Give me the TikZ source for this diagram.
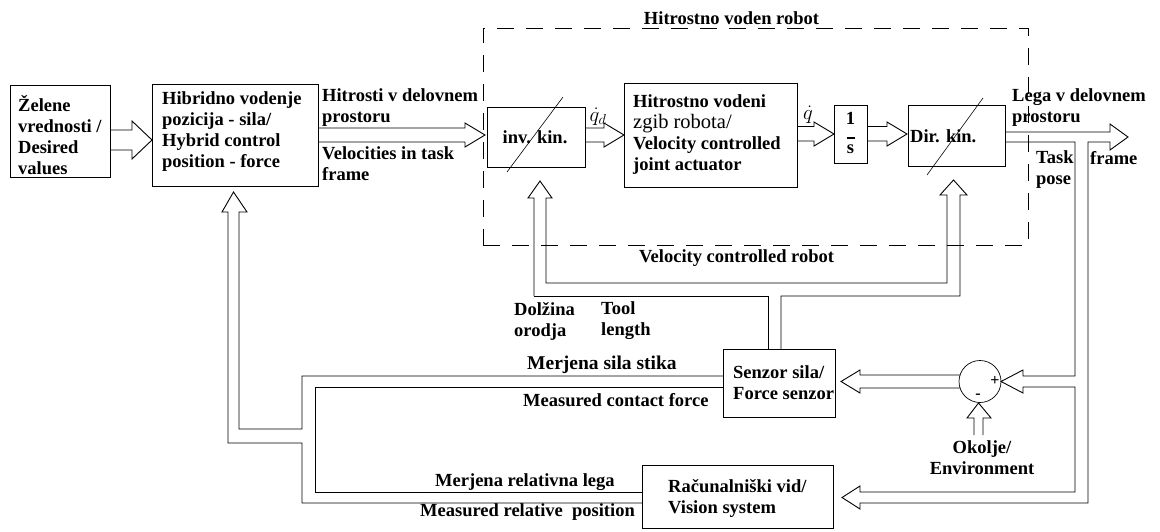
\documentclass[tikz,border=0pt]{standalone}
\usepackage{fontspec}
\setmainfont{Liberation Serif}
\newcommand\fz{\bfseries\fontsize{18.5}{21}\selectfont}
\begin{document}
\begin{tikzpicture}[x=1pt,y=-1pt,
  conn/.style={line width=0.9pt, line join=miter},
  thinl/.style={line width=0.6pt},
  box/.style={draw, line width=0.9pt, inner sep=0pt},
  lbl/.style={inner sep=0pt, align=left, font=\fz},
  dashbox/.style={draw, line width=0.9pt, dash pattern=on 17pt off 12pt, inner sep=0pt},
]
\useasboundingbox (0,0) rectangle (1160,531);

% dashed frame of the velocity controlled robot
\node[dashbox, minimum width=545pt, minimum height=217pt] (vcr) at (755.5,136.5) {};
\node[lbl] (vcrtitle) at (731.5,18.5) {Hitrostno voden robot};
\node[lbl] (vcrlabel) at (736.5,258) {Velocity controlled robot};

% boxes
\node[box, minimum width=100pt, minimum height=92pt] (b1) at (60,131) {};
\node[box, minimum width=166pt, minimum height=102pt] (b2) at (235,135) {};
\node[box, minimum width=98pt, minimum height=60pt] (inv) at (536,137) {};
\node[box, minimum width=173pt, minimum height=104pt] (b3) at (710.5,135) {};
\node[box, minimum width=33pt, minimum height=58pt] (int) at (850.5,134) {};
\node[box, minimum width=97pt, minimum height=61pt] (dir) at (956.5,135.5) {};
\node[box, minimum width=112pt, minimum height=68pt] (fs) at (779,383) {};
\node[box, minimum width=191pt, minimum height=63pt] (vis) at (737.5,496.5) {};
\node[draw, circle, line width=0.7pt, minimum size=42pt, inner sep=0pt] (sum) at (980,381.5) {};

% box texts
\node[lbl, anchor=west] (b1t) at (18,135) {Želene\\vrednosti /\\Desired\\values};
\node[lbl, anchor=west] (b2t) at (162,132) {Hibridno vodenje\\pozicija - sila/\\Hybrid control\\position - force};
\node[lbl, anchor=west] (b3t) at (633,135) {Hitrostno vodeni\\{\mdseries\fontsize{20.5}{21}\selectfont zgib robota/}\\Velocity controlled\\joint actuator};
\node[lbl] (invt) at (535,137) {inv. kin.};
\node[lbl, anchor=west] (dirt) at (910,136) {Dir. kin.};
\node[lbl, align=center] (intt) at (850.5,133) {1\\[-7pt]\rule{8pt}{1.2pt}\\[-6pt]s};
\node[lbl, anchor=west] (fst) at (733,383) {Senzor sila/\\Force senzor};
\node[lbl, anchor=west] (vist) at (668,498.5) {Računalniški vid/\\Vision system};
\node[lbl, align=center] (env) at (982,457.5) {Okolje/\\Environment};
\node[lbl, font=\bfseries\fontsize{16}{16}\selectfont] (plus) at (995,381) {+};
\node[lbl, font=\bfseries\fontsize{16}{16}\selectfont] (minus) at (978,396) {-};

% slashes through kinematics blocks
\draw[thinl] (563,97) -- (507,172);
\draw[thinl] (983,98) -- (927,175);

% connector labels
\node[lbl, anchor=west] (l1) at (322,107.5) {Hitrosti v delovnem\\prostoru};
\node[lbl, anchor=west] (l2) at (322,164) {Velocities in task\\frame};
\node[lbl, font=\fontsize{20}{20}\selectfont] (qd) at (598,117) {$\dot{q}_d$};
\node[lbl, font=\fontsize{20}{20}\selectfont] (qdot) at (808,115) {$\dot{q}$};
\node[lbl, anchor=west] (l3) at (1012,107.5) {Lega v delovnem\\prostoru};
\node[lbl, anchor=west] (l4) at (1036,170) {Task\\pose};
\node[lbl, anchor=west] (l5) at (1090,158) {frame};
\node[lbl, anchor=west] (l6) at (514,321) {Dolžina\\orodja};
\node[lbl, anchor=west] (l7) at (601,321) {Tool\\length};
\node[lbl, anchor=west, font=\bfseries\fontsize{19.5}{21}\selectfont] (l8) at (527,365) {Merjena sila stika};
\node[lbl, anchor=west] (l9) at (523,400) {Measured contact force};
\node[lbl, anchor=west] (l10) at (435,482) {Merjena relativna lega};
\node[lbl, anchor=west] (l11) at (420,512) {Measured relative\ \ position};

% forward double arrows
\draw[conn] (110,130) -- (132,130) -- (132,121) -- (152,140) -- (132,159) -- (132,150) -- (110,150);
\draw[conn] (318,128) -- (465,128) -- (465,123) -- (485,135) -- (465,147) -- (465,142) -- (318,142);
\draw[conn] (585,128) -- (604,128) -- (604,123) -- (624,135) -- (604,147) -- (604,142) -- (585,142);
\draw[conn] (797,126.5) -- (814,126.5) -- (814,122) -- (834,134) -- (814,146) -- (814,141) -- (797,141);
\draw[conn] (867,126.5) -- (887,126.5) -- (887,122) -- (907,134) -- (887,146) -- (887,141) -- (867,141);

% output, task frame pose loop to summing junction and vision system
\draw[conn] (1005,132) -- (1110,132) -- (1110,124) -- (1128,137) -- (1110,150) -- (1110,142)
  -- (1088,142) -- (1088,503) -- (860,503) -- (860,509) -- (842,497.5) -- (860,486) -- (860,492)
  -- (1075,492) -- (1075,387) -- (1023,387) -- (1023,393) -- (1001,381.5) -- (1023,370)
  -- (1023,376) -- (1075,376) -- (1075,142) -- (1005,142);

% summing junction to force sensor
\draw[conn] (960,375) -- (860,375) -- (860,370) -- (841,381.5) -- (860,393) -- (860,388) -- (960,388);

% environment into summing junction
\draw[conn] (974,435) -- (974,418) -- (967,418) -- (978.5,403) -- (991,418) -- (983,418) -- (983,435);

% tool length from force sensor to kinematics blocks
\draw[conn] (534,296) -- (534,198) -- (528,198) -- (540,181) -- (552,198) -- (546,198) -- (546,283)
  -- (947,283) -- (947,195) -- (940,195) -- (953.5,180) -- (967,195) -- (960,195) -- (960,296)
  -- (781,296) -- (781,349);
\draw[conn] (534,296) -- (768,296) -- (768,349);

% measured force and relative position feedback into hybrid control
\draw[conn] (723,376) -- (302,376) -- (302,429) -- (239,429) -- (239,212) -- (247,212) -- (233.5,192)
  -- (222,212) -- (228,212) -- (228,443) -- (302,443) -- (302,503) -- (642,503);
\draw[conn] (723,387) -- (315,387) -- (315,492) -- (642,492);
\end{tikzpicture}
\end{document}
